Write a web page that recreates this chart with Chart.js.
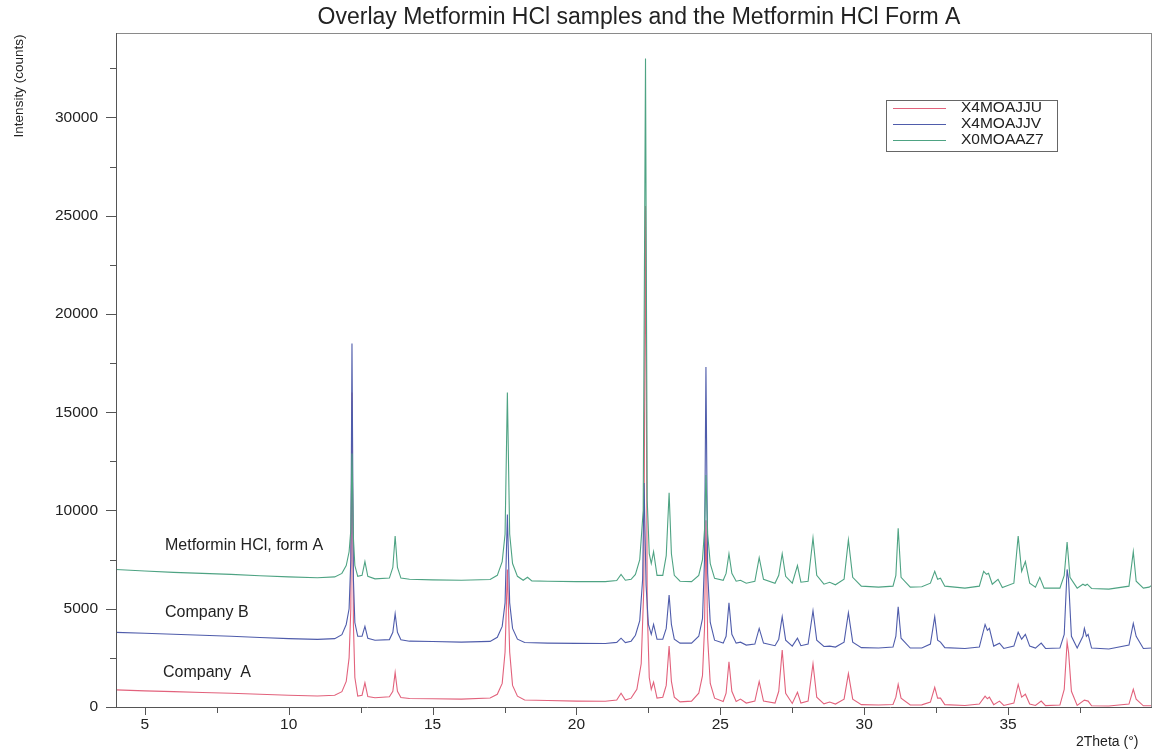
<!DOCTYPE html>
<html>
<head>
<meta charset="utf-8">
<title>Overlay Metformin HCl</title>
<script src="https://cdn.jsdelivr.net/npm/chart.js@4.4.0/dist/chart.umd.min.js"></script>
<style>
  html, body { margin: 0; padding: 0; background: #fff; }
  #wrap { width: 1161px; height: 752px; }
</style>
</head>
<body>
<div id="wrap"><canvas id="xrd" width="1161" height="752"></canvas></div>
<script>
// legend names and sample labels
const seriesNames = ['X4MOAJJU', 'X4MOAJJV', 'X0MOAAZ7'];
const sampleLabels = ['Company  A', 'Company B', 'Metformin HCl, form A'];

// tick values
const xTicks = [5, 10, 15, 20, 25, 30, 35];
const xMinorTicks = [7.5, 12.5, 17.5, 22.5, 27.5, 32.5, 37.5];
const yTicks = [0, 5000, 10000, 15000, 20000, 25000, 30000];
const yMinorTicks = [2500, 7500, 12500, 17500, 22500, 27500, 32500];

// [2theta, counts]
const companyA = [
  [4.0,870],[5.0,820],[6.0,780],[7.0,740],[8.0,700],[9.0,650],[10.0,600],[11.0,560],[11.6,600],[11.85,780],
  [12.0,1300],[12.1,2500],[12.16,5000],[12.2,16000],[12.25,4200],[12.3,1500],[12.4,560],[12.55,600],[12.65,1230],[12.75,530],
  [13.0,470],[13.5,520],[13.62,800],[13.7,1750],[13.78,800],[13.9,480],[14.2,430],[15.0,420],[16.0,400],[17.0,460],
  [17.25,650],[17.42,1200],[17.52,2800],[17.6,7000],[17.68,2800],[17.78,1100],[17.95,550],[18.2,360],[19.0,330],[20.0,300],
  [21.0,290],[21.4,360],[21.55,700],[21.7,350],[21.9,450],[22.1,900],[22.25,2200],[22.34,6000],[22.4,25500],[22.46,5000],
  [22.53,1500],[22.6,900],[22.68,1270],[22.8,450],[23.0,500],[23.12,1100],[23.22,3100],[23.3,1300],[23.4,500],[23.6,260],
  [24.0,300],[24.25,700],[24.38,1600],[24.45,4000],[24.5,9500],[24.56,3500],[24.65,1200],[24.8,450],[25.1,280],[25.2,700],
  [25.3,2300],[25.4,800],[25.55,280],[25.7,400],[25.9,200],[26.2,300],[26.35,1300],[26.5,300],[26.9,200],[27.03,800],
  [27.15,2900],[27.27,700],[27.5,180],[27.68,750],[27.8,200],[28.05,300],[28.22,2200],[28.35,500],[28.6,160],[28.8,250],
  [29.0,150],[29.3,400],[29.45,1700],[29.6,400],[29.9,120],[30.5,100],[31.0,130],[31.1,500],[31.18,1150],[31.28,450],
  [31.6,100],[32.0,110],[32.3,250],[32.45,1000],[32.55,450],[32.65,450],[32.8,120],[33.5,80],[34.0,150],[34.2,550],
  [34.28,420],[34.35,500],[34.5,120],[34.7,300],[34.85,80],[35.2,200],[35.35,1150],[35.47,500],[35.6,650],[35.75,150],
  [35.95,80],[36.15,300],[36.3,70],[36.8,100],[36.95,900],[37.05,3300],[37.1,2800],[37.2,800],[37.4,80],[37.65,350],
  [37.78,300],[37.9,60],[38.5,50],[39.2,150],[39.35,900],[39.45,400],[39.7,60],[40.0,60]
];

const companyB = [
  [4.0,3800],[5.0,3750],[6.0,3700],[7.0,3650],[8.0,3600],[9.0,3540],[10.0,3480],[11.0,3440],[11.6,3480],[11.85,3680],
  [12.0,4200],[12.1,5000],[12.16,7500],[12.2,18500],[12.25,6500],[12.3,4300],[12.4,3600],[12.55,3600],[12.65,4100],[12.75,3500],
  [13.0,3400],[13.5,3430],[13.62,3800],[13.7,4750],[13.78,3800],[13.9,3420],[14.2,3350],[15.0,3330],[16.0,3300],[17.0,3340],
  [17.25,3550],[17.42,4100],[17.52,5300],[17.6,9800],[17.68,5300],[17.78,4000],[17.95,3450],[18.2,3280],[19.0,3250],[20.0,3240],
  [21.0,3230],[21.4,3290],[21.55,3500],[21.7,3280],[21.9,3350],[22.05,3650],[22.2,4400],[22.3,6500],[22.35,11400],[22.42,6200],
  [22.5,4200],[22.6,3700],[22.68,4200],[22.8,3450],[23.0,3450],[23.12,4000],[23.22,5700],[23.3,4200],[23.4,3450],[23.6,3250],
  [24.0,3250],[24.25,3600],[24.38,4500],[24.45,7500],[24.5,17300],[24.56,6800],[24.65,4300],[24.8,3400],[25.1,3250],[25.2,3600],
  [25.3,5300],[25.4,3700],[25.55,3250],[25.7,3300],[25.9,3150],[26.2,3200],[26.35,4000],[26.5,3250],[26.9,3120],[27.03,3450],
  [27.15,4600],[27.27,3400],[27.5,3100],[27.68,3500],[27.8,3120],[28.05,3200],[28.22,4900],[28.35,3400],[28.6,3080],[28.8,3100],
  [29.0,3050],[29.3,3300],[29.45,4800],[29.6,3300],[29.9,3020],[30.5,3000],[31.0,3050],[31.1,3600],[31.18,5100],[31.28,3500],
  [31.6,3000],[32.0,3000],[32.3,3200],[32.45,4600],[32.55,3400],[32.65,3300],[32.8,3020],[33.5,2980],[34.0,3050],[34.2,4200],
  [34.28,3900],[34.35,4000],[34.5,3100],[34.7,3250],[34.85,2980],[35.2,3100],[35.35,3800],[35.47,3450],[35.6,3700],[35.75,3100],
  [35.95,3000],[36.15,3250],[36.3,2980],[36.8,3000],[36.95,3700],[37.05,7000],[37.1,6500],[37.2,3600],[37.4,3000],[37.6,3600],
  [37.65,4000],[37.72,3600],[37.78,3700],[37.9,3000],[38.5,2950],[39.2,3150],[39.35,4250],[39.45,3600],[39.7,2980],[40.0,3000]
];

const formA = [
  [4.0,7000],[5.0,6920],[6.0,6850],[7.0,6800],[8.0,6750],[9.0,6680],[10.0,6620],[11.0,6580],[11.6,6620],[11.85,6800],
  [12.0,7200],[12.1,7900],[12.16,9000],[12.2,12900],[12.25,8600],[12.3,7200],[12.4,6650],[12.55,6700],[12.65,7400],[12.75,6650],
  [13.0,6520],[13.5,6560],[13.62,7100],[13.7,8700],[13.78,7100],[13.9,6560],[14.2,6500],[15.0,6470],[16.0,6450],[17.0,6490],
  [17.25,6700],[17.42,7400],[17.52,8800],[17.6,16000],[17.68,8800],[17.78,7300],[17.95,6650],[18.15,6450],[18.3,6600],[18.45,6420],
  [19.0,6400],[20.0,6380],[21.0,6380],[21.4,6440],[21.55,6750],[21.7,6450],[21.9,6500],[22.05,6750],[22.2,7500],[22.32,10000],
  [22.4,33000],[22.46,10500],[22.53,7800],[22.6,7300],[22.68,7900],[22.8,6700],[23.0,6700],[23.12,7700],[23.22,10900],[23.3,7800],
  [23.4,6700],[23.6,6400],[24.0,6380],[24.25,6700],[24.38,7500],[24.45,9000],[24.5,11800],[24.56,8800],[24.65,7300],[24.8,6550],
  [25.1,6450],[25.2,6800],[25.3,7800],[25.4,6800],[25.55,6400],[25.7,6450],[25.9,6300],[26.2,6400],[26.35,7600],[26.5,6500],
  [26.9,6300],[27.03,6700],[27.15,7800],[27.27,6650],[27.5,6300],[27.68,7200],[27.8,6350],[28.05,6400],[28.22,8600],[28.35,6700],
  [28.6,6250],[28.8,6350],[29.0,6220],[29.3,6500],[29.45,8500],[29.6,6600],[29.9,6150],[30.5,6100],[31.0,6150],[31.1,6700],
  [31.18,9100],[31.28,6600],[31.6,6100],[32.0,6120],[32.3,6300],[32.45,6900],[32.55,6500],[32.65,6550],[32.8,6150],[33.5,6050],
  [34.0,6150],[34.15,6900],[34.25,6750],[34.32,6800],[34.45,6250],[34.65,6500],[34.8,6080],[35.2,6300],[35.35,8700],[35.47,6900],
  [35.6,7400],[35.75,6300],[35.95,6100],[36.1,6600],[36.25,6050],[36.8,6050],[36.95,6700],[37.05,8400],[37.15,6600],[37.4,6050],
  [37.6,6250],[37.68,6180],[37.75,6250],[37.9,6030],[38.5,6000],[39.2,6150],[39.35,7900],[39.45,6400],[39.7,6050],[39.9,6100],
  [40.0,6200]
];

const FONT = '"Liberation Sans", Arial, sans-serif';
const colors = ['#e2627c', '#4f5cab', '#4ea383'];

function toPoints(arr) {
  return arr.map(p => ({ x: p[0], y: p[1] }));
}

// draws the frame, minor ticks, title, sample labels and the boxed legend
const decorPlugin = {
  id: 'decor',
  afterDraw(chart) {
    const ctx = chart.ctx;
    const a = chart.chartArea;
    const xs = chart.scales.x;
    const ys = chart.scales.y;
    ctx.save();

    // frame
    ctx.lineWidth = 1;
    ctx.strokeStyle = '#8a8a8a';
    ctx.beginPath();
    ctx.moveTo(a.left, a.top + 0.5); ctx.lineTo(a.right, a.top + 0.5);
    ctx.moveTo(a.right - 0.5, a.top); ctx.lineTo(a.right - 0.5, a.bottom);
    ctx.stroke();
    ctx.strokeStyle = '#555';
    ctx.beginPath();
    ctx.moveTo(a.left + 0.5, a.top); ctx.lineTo(a.left + 0.5, a.bottom);
    ctx.moveTo(a.left - 10, a.bottom + 0.5); ctx.lineTo(a.right, a.bottom + 0.5);
    ctx.stroke();

    // ticks
    ctx.beginPath();
    yTicks.forEach(v => {
      const y = Math.round(ys.getPixelForValue(v)) + 0.5;
      ctx.moveTo(a.left - 10, y); ctx.lineTo(a.left, y);
    });
    yMinorTicks.forEach(v => {
      const y = Math.round(ys.getPixelForValue(v)) + 0.5;
      ctx.moveTo(a.left - 6, y); ctx.lineTo(a.left, y);
    });
    xTicks.forEach(v => {
      const x = Math.round(xs.getPixelForValue(v)) + 0.5;
      ctx.moveTo(x, a.bottom); ctx.lineTo(x, a.bottom + 8);
    });
    xMinorTicks.forEach(v => {
      const x = Math.round(xs.getPixelForValue(v)) + 0.5;
      ctx.moveTo(x, a.bottom); ctx.lineTo(x, a.bottom + 6);
    });
    ctx.stroke();

    // title
    ctx.fillStyle = '#222';
    ctx.textAlign = 'center';
    ctx.textBaseline = 'middle';
    ctx.font = '23px ' + FONT;
    ctx.fillText('Overlay Metformin HCl samples and the Metformin HCl Form A', 639, 18);

    // axis titles
    ctx.font = '13.5px ' + FONT;
    ctx.save();
    ctx.translate(19, 86);
    ctx.rotate(-Math.PI / 2);
    ctx.fillText('Intensity (counts)', 0, 0);
    ctx.restore();
    ctx.textAlign = 'left';
    ctx.font = '14px ' + FONT;
    ctx.fillText('2Theta (\u00b0)', 1076, 742);

    // sample labels
    ctx.font = '16px ' + FONT;
    ctx.fillText(sampleLabels[2], 165, 546);
    ctx.fillText(sampleLabels[1], 165, 613);
    ctx.fillText(sampleLabels[0], 163, 673);

    // legend box
    ctx.strokeStyle = '#666';
    ctx.strokeRect(886.5, 100.5, 171, 51);
    ctx.font = '15.5px ' + FONT;
    ctx.fillStyle = '#222';
    const rows = [108, 124, 140];
    seriesNames.forEach((name, i) => {
      ctx.strokeStyle = colors[i];
      ctx.beginPath();
      ctx.moveTo(893, rows[i] + 0.5); ctx.lineTo(946, rows[i] + 0.5);
      ctx.stroke();
      ctx.fillText(name, 961, rows[i]);
    });

    ctx.restore();
  }
};

const tickFont = { family: FONT, size: 15.5 };

new Chart(document.getElementById('xrd'), {
  type: 'line',
  data: {
    datasets: [
      { label: seriesNames[0], data: toPoints(companyA), borderColor: colors[0], borderWidth: 1.1, pointRadius: 0, tension: 0, order: 3 },
      { label: seriesNames[1], data: toPoints(companyB), borderColor: colors[1], borderWidth: 1.1, pointRadius: 0, tension: 0, order: 2 },
      { label: seriesNames[2], data: toPoints(formA), borderColor: colors[2], borderWidth: 1.1, pointRadius: 0, tension: 0, order: 1 }
    ]
  },
  options: {
    responsive: false,
    animation: false,
    events: [],
    layout: { padding: { top: 33, right: 9, left: 0, bottom: 0 } },
    plugins: { legend: { display: false }, tooltip: { enabled: false } },
    scales: {
      x: {
        type: 'linear',
        min: 4,
        max: 40,
        afterBuildTicks: s => { s.ticks = xTicks.map(v => ({ value: v })); },
        afterFit: s => { s.height = 45; },
        grid: { display: false },
        border: { display: false },
        ticks: { padding: 0, font: tickFont, color: '#222', maxRotation: 0 }
      },
      y: {
        min: 0,
        max: 34300,
        afterBuildTicks: s => { s.ticks = yTicks.map(v => ({ value: v })); },
        afterFit: s => { s.width = 116; },
        grid: { display: false },
        border: { display: false },
        ticks: { padding: 10, font: tickFont, color: '#222', callback: v => String(v) }
      }
    }
  },
  plugins: [decorPlugin]
});
</script>
</body>
</html>
